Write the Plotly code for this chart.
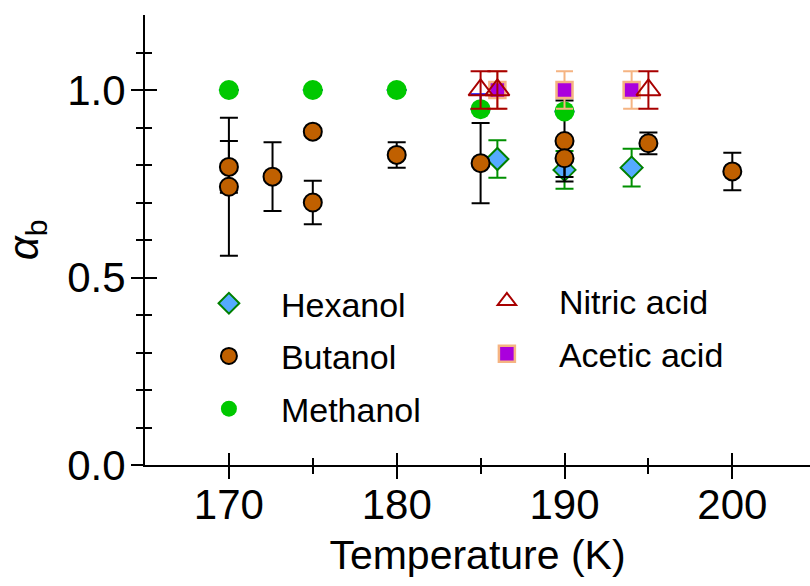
import plotly.graph_objects as go

# Temperature (K) and sticking coefficient alpha_b with symmetric uncertainties
hex_T = [186, 190, 194]
hex_a = [0.816, 0.787, 0.793]
hex_err = [0.05, 0.05, 0.05]

but_T = [170, 170, 172.6, 175, 175, 180, 185, 190, 190, 195, 200]
but_a = [0.795, 0.742, 0.769, 0.889, 0.700, 0.827, 0.805, 0.864, 0.818, 0.858, 0.783]
but_err = [0.069, 0.184, 0.092, 0.0, 0.058, 0.034, 0.107, 0.108, 0.05, 0.029, 0.05]

met_T = [170, 175, 180, 185, 190]
met_a = [1.0, 1.0, 1.0, 0.949, 0.943]
met_err_up = [0.0, 0.0, 0.0, 0.04, 0.0]
met_err_down = [0.0, 0.0, 0.0, 0.0, 0.0]

nit_T = [185, 186, 195]
nit_a = [1.0, 1.0, 1.0]
nit_err = [0.05, 0.05, 0.05]

ace_T = [186, 190, 194]
ace_a = [1.0, 1.0, 1.0]
ace_err = [0.05, 0.05, 0.05]

x_major = [170, 180, 190, 200]
x_minor = [175, 185, 195]
y_major = [0.0, 0.5, 1.0]
y_major_text = ["0.0", "0.5", "1.0"]
y_minor = [0.1, 0.2, 0.3, 0.4, 0.6, 0.7, 0.8, 0.9, 1.1]

FONT = "Arial, Liberation Sans, sans-serif"
X_RANGE = [165, 204.63]
Y_RANGE = [0, 1.2]

fig = go.Figure()


def err(vals, color, half, minus=None):
    d = dict(type="data", array=vals, color=color, thickness=2, width=half, visible=True)
    if minus is not None:
        d.update(symmetric=False, arrayminus=minus)
    return d


# Hexanol sits on the base axes; the other series use the overlaid axes
# (drawn above), which also carry the inner halves of the tick marks.
fig.add_trace(go.Scatter(
    x=hex_T, y=hex_a, mode="markers", name="Hexanol",
    marker=dict(symbol="diamond", size=17, color="#55AAFF", line=dict(color="#008000", width=2)),
    error_y=err(hex_err, "#009000", 9), legend="legend", legendgroup="hex", legendrank=1,
))
fig.add_trace(go.Scatter(
    x=but_T, y=but_a, mode="markers", name="Butanol", xaxis="x2", yaxis="y2",
    marker=dict(symbol="circle", size=18, color="#C06000", line=dict(color="black", width=2)),
    error_y=err(but_err, "black", 9), legend="legend", legendgroup="but", legendrank=2,
))
fig.add_trace(go.Scatter(
    x=met_T, y=met_a, mode="markers", name="Methanol", xaxis="x2", yaxis="y2",
    marker=dict(symbol="circle", size=20, color="#00C800", line=dict(width=0)),
    error_y=err(met_err_up, "#0000FF", 10, met_err_down),
    legend="legend", legendgroup="met", legendrank=3,
))
fig.add_trace(go.Scatter(
    x=ace_T, y=ace_a, mode="markers", name="Acetic acid", xaxis="x2", yaxis="y2",
    marker=dict(symbol="square", size=16, color="#AA00DD", line=dict(color="#F5B482", width=2.5)),
    error_y=err(ace_err, "#F5B482", 8.5), legend="legend2", legendgroup="ace", legendrank=2,
))
fig.add_trace(go.Scatter(
    x=nit_T, y=nit_a, mode="markers", name="Nitric acid", xaxis="x2", yaxis="y2",
    marker=dict(symbol="triangle-up-open", size=21, color="#A80000", line=dict(color="#A80000", width=2)),
    error_y=err(nit_err, "#A80000", 10), legend="legend2", legendgroup="nit", legendrank=1,
))

tick_common = dict(tickwidth=2, tickcolor="black", showgrid=False, zeroline=False)

legend_common = dict(
    font=dict(family=FONT, size=34, color="black"),
    bgcolor="rgba(0,0,0,0)", borderwidth=0,
    traceorder="grouped", tracegroupgap=5.5,
    xanchor="left", yanchor="top", itemwidth=94,
)

fig.update_layout(
    width=810, height=586,
    margin=dict(l=145, r=0, t=15, b=121, autoexpand=False),
    paper_bgcolor="white", plot_bgcolor="white",
    font=dict(family=FONT, color="black"),
    showlegend=True,
    legend=dict(x=0.048, y=0.423, **legend_common),
    legend2=dict(x=0.466, y=0.428, **legend_common),
    xaxis=dict(
        range=X_RANGE, showline=True, linecolor="black", linewidth=2,
        ticks="outside", ticklen=12, tickvals=x_major, ticklabelstandoff=-10,
        minor=dict(tickvals=x_minor, ticks="outside", ticklen=7, tickwidth=2, tickcolor="black"),
        tickfont=dict(family=FONT, size=42, color="black"),
        title=dict(text="Temperature (K)", font=dict(family=FONT, size=41, color="black"), standoff=13),
        **tick_common,
    ),
    yaxis=dict(
        range=Y_RANGE, showline=True, linecolor="black", linewidth=2,
        ticks="outside", ticklen=12, tickvals=y_major, ticktext=y_major_text,
        ticklabelstandoff=-3,
        minor=dict(tickvals=y_minor, ticks="outside", ticklen=7, tickwidth=2, tickcolor="black"),
        tickfont=dict(family=FONT, size=42, color="black"),
        title=dict(text="<i>α</i><sub><span style='font-size:30px'>b</span></sub>",
                   font=dict(family=FONT, size=42, color="black"), standoff=18),
        **tick_common,
    ),
    xaxis2=dict(
        overlaying="x", anchor="y2", side="bottom", range=X_RANGE, showline=False,
        ticks="inside", ticklen=12, tickvals=x_major, showticklabels=False,
        minor=dict(tickvals=x_minor, ticks="inside", ticklen=7, tickwidth=2, tickcolor="black"),
        **tick_common,
    ),
    yaxis2=dict(
        overlaying="y", anchor="x2", side="left", range=Y_RANGE, showline=False,
        ticks="inside", ticklen=12, tickvals=y_major + [1.2], showticklabels=False,
        minor=dict(tickvals=y_minor, ticks="inside", ticklen=7, tickwidth=2, tickcolor="black"),
        **tick_common,
    ),
)

fig.write_html("out.html")
